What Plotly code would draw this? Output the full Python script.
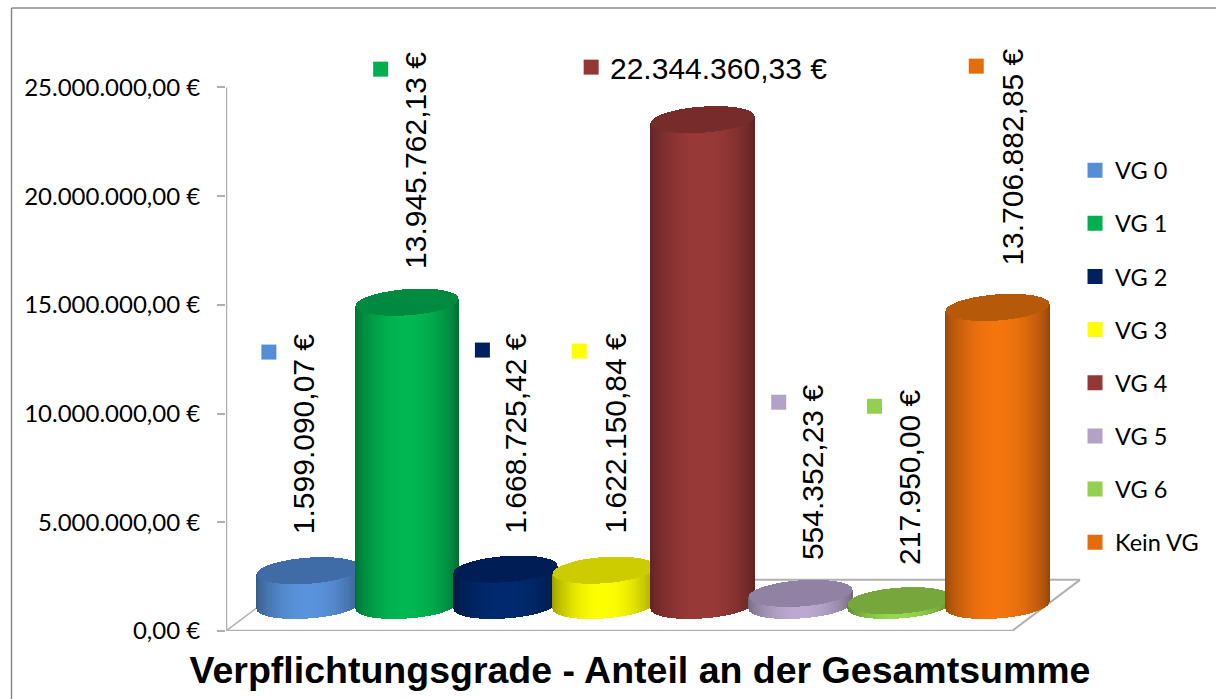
import math
import numpy as np
import plotly.graph_objects as go

# ---------- data ----------
categories = ["VG 0", "VG 1", "VG 2", "VG 3", "VG 4", "VG 5", "VG 6", "Kein VG"]
values = [1599090.07, 13945762.13, 1668725.42, 1622150.84, 22344360.33, 554352.23, 217950.00, 13706882.85]
body_colors = ["#5A94DC", "#00B853", "#002A70", "#FFFF00", "#9A3A38", "#BCABD0", "#96D84E", "#F5750F"]
cap_colors = ["#3F6CA6", "#008A40", "#001E55", "#CCCC00", "#772C2B", "#8F82A3", "#76A63C", "#B65A0A"]
tick_values = [0, 5e6, 10e6, 15e6, 20e6, 25e6]
tick_labels = ["0,00 €", "5.000.000,00 €", "10.000.000,00 €", "15.000.000,00 €", "20.000.000,00 €", "25.000.000,00 €"]
title_text = "Verpflichtungsgrade - Anteil an der Gesamtsumme"

# ---------- page geometry (pixels) ----------
W, H = 1216, 699
S = 1.0035
L, R, T, B = 225, 1085, 30, 629
TOP_TICK_PX = 87.3
FIRST, STEP = 308, 98.7
SEMI_W, SEMI_H, TILT = 51.5, 13, 0.07
BASE_PX = 603.5
PER_UNIT = (B - TOP_TICK_PX) / 25e6

def dx_(p):   # pixel -> x data
    return (p - FIRST) / STEP

def dy_(p):   # pixel -> y data
    return (B - p) / PER_UNIT

def fmt(v):
    s = f"{v:,.2f}"
    return s.replace(",", "X").replace(".", ",").replace("X", ".") + " €"

def shade(col, f):
    r, g, b = int(col[1:3], 16), int(col[3:5], 16), int(col[5:7], 16)
    return f"rgb({int(r*f)},{int(g*f)},{int(b*f)})"

fig = go.Figure()
offs = np.arange(-SEMI_W, SEMI_W + 1.0, 1.0)
chord = SEMI_H * np.sqrt(np.clip(1 - (offs / SEMI_W) ** 2, 0, 1))
skew = TILT * offs
u = (offs + SEMI_W) / (2 * SEMI_W)
light = 0.62 + 0.38 * np.sin(np.pi * u) ** 0.7

for i, v in enumerate(values):
    xs = i + offs / STEP
    base_c = dy_(BASE_PX)
    low = base_c + (skew - chord) / PER_UNIT
    fig.add_trace(go.Bar(x=xs, y=[v] * len(xs), base=low, width=1.6 / STEP,
                         marker=dict(color=[shade(body_colors[i], f) for f in light], line_width=0),
                         showlegend=False, hoverinfo="skip"))
    fig.add_trace(go.Bar(x=xs, y=2 * chord / PER_UNIT, base=low + v, width=1.6 / STEP,
                         marker=dict(color=cap_colors[i], line_width=0),
                         showlegend=False, hoverinfo="skip"))

# ---------- data labels and their keys ----------
key_px = [(268, 351), (380, 69), (482, 349), (579, 350), (591, 67), (779, 401), (875, 405), (977, 66)]
label_px = [(303, 432), (415, 160), (515, 432), (615, 432), (719, 68), (813, 471), (910, 476), (1013, 157)]
key_colors = ["#558ED5", "#00B050", "#002060", "#FFFF00", "#953735", "#B3A2C7", "#92D050", "#E46C0A"]
annotations = []
for i, name in enumerate(categories):
    fig.add_trace(go.Scatter(x=[dx_(key_px[i][0])], y=[dy_(key_px[i][1])], mode="markers", name=name,
                             legendgroup=name,
                             marker=dict(symbol="square", size=15, color=key_colors[i], line_width=0),
                             hoverinfo="skip", cliponaxis=False))
    annotations.append(dict(x=dx_(label_px[i][0]), y=dy_(label_px[i][1]), xref="x", yref="y",
                            text=fmt(values[i]), showarrow=False, textangle=0 if i == 4 else -90,
                            font=dict(family="Liberation Sans", size=30, color="#000000")))

# ---------- floor, axis line and frame ----------
GRAY = "#B0B0B0"
def seg(x0, y0, x1, y1, w=2):
    return dict(type="line", layer="below", xref="x", yref="y",
                x0=dx_(x0), y0=dy_(y0), x1=dx_(x1), y1=dy_(y1), line=dict(color=GRAY, width=w))

def frame(x0, y0, x1, y1):
    return dict(type="line", layer="below", xref="paper", yref="paper",
                x0=(x0 - L) / (R - L), x1=(x1 - L) / (R - L),
                y0=(B - y0) / (B - T), y1=(B - y1) / (B - T),
                line=dict(color="#8A8A8A", width=1.5))

shapes = [
    seg(225, 629, 1013, 629, w=2.5),
    seg(225, 629, 293, 578, w=1.5),
    seg(293, 578, 1081, 578, w=2),
    seg(1013, 629, 1081, 578, w=2),
    seg(225, 629, 225, TOP_TICK_PX, w=2.5),
    frame(10, 8, 1225, 8),
    frame(10, 8, 10, 705),
]

fig.update_layout(
    width=W, height=H, autosize=False,
    margin=dict(l=L * S, r=W - R * S, t=T * S, b=H - B * S, pad=0),
    paper_bgcolor="white", plot_bgcolor="white",
    barmode="overlay", bargap=0,
    shapes=shapes, annotations=annotations,
    title=dict(text=title_text, xref="paper", yref="container", x=(640 - L) / (R - L), xanchor="center",
               y=1 - 668 * S / H, yanchor="middle",
               font=dict(family="Liberation Sans", size=37.5, color="#000000", weight="bold")),
    xaxis=dict(range=[dx_(L), dx_(R)], visible=False, fixedrange=True),
    yaxis=dict(range=[0, dy_(T)], tickmode="array", tickvals=tick_values, ticktext=tick_labels,
               showgrid=False, zeroline=False, showline=False,
               ticks="outside", ticklen=8, tickcolor=GRAY, tickwidth=1.5, ticklabelstandoff=12,
               tickfont=dict(family="Lato", size=24, color="#000000"), fixedrange=True),
    legend=dict(x=(1076 - L) / (R - L), y=(B - 148) / (B - T), xanchor="left", yanchor="top",
                traceorder="grouped", tracegroupgap=19.6, bgcolor="rgba(0,0,0,0)",
                font=dict(family="Lato", size=23.5, color="#000000")),
)
fig.write_html("out.html", config={"displayModeBar": False},
               post_script="document.body.style.margin='0';document.documentElement.style.overflow='hidden';")
